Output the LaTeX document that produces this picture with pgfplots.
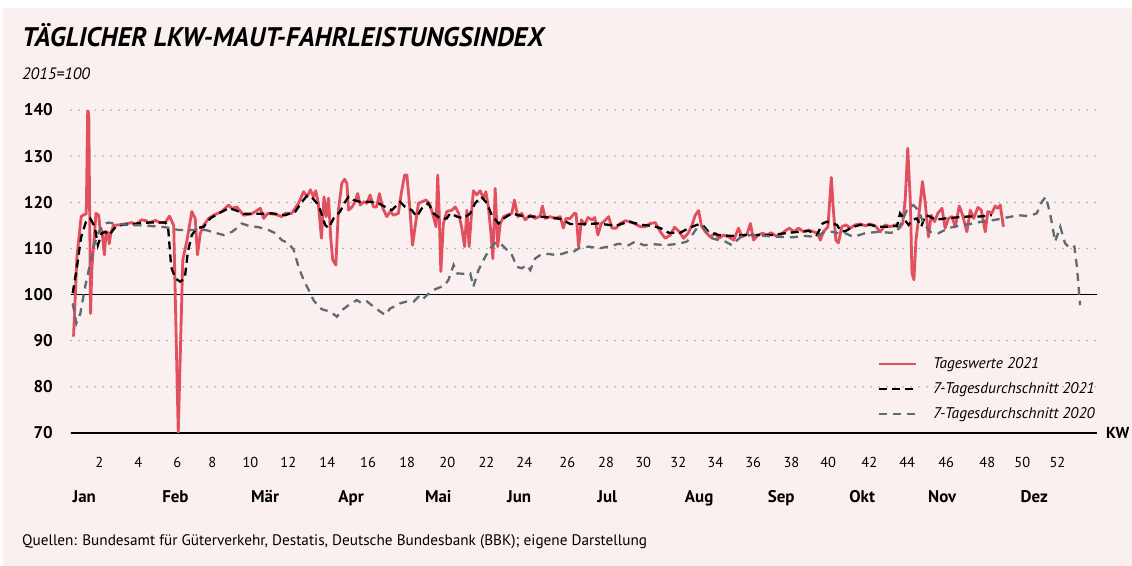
\documentclass[border=0pt]{standalone}
\usepackage{fontspec}
\setmainfont{PT Sans}
\usepackage{pgfplots}
\pgfplotsset{compat=1.18}
\definecolor{bg}{RGB}{250,240,239}
\definecolor{lred}{RGB}{226,80,95}
\definecolor{lgray}{RGB}{94,107,115}
\definecolor{gridc}{RGB}{135,135,135}
\begin{document}
\begin{tikzpicture}
\fill[white] (0bp,0bp) rectangle (1132bp,566bp);
\fill[bg] (3bp,0bp) rectangle (1132bp,558bp);
\useasboundingbox (0bp,0bp) rectangle (1132bp,566bp);
\node[anchor=base west, inner sep=0pt, font=\fontsize{27}{31}\selectfont\bfseries\itshape] at (22bp,519bp) {TÄGLICHER LKW-MAUT-FAHRLEISTUNGSINDEX};
\node[anchor=base west, inner sep=0pt, font=\fontsize{16.5}{19}\selectfont\itshape] at (22bp,486bp) {2015=100};
\node[anchor=base west, inner sep=0pt, font=\fontsize{15.3}{18}\selectfont] at (22bp,21bp) {Quellen: Bundesamt für Güterverkehr, Destatis, Deutsche Bundesbank (BBK); eigene Darstellung};
\begin{axis}[
  at={(71bp,133bp)}, anchor=south west,
  scale only axis, width=1026bp, height=323bp,
  xmin=0, xmax=362.6, ymin=70, ymax=140,
  axis lines*=left,
  x axis line style={black, line width=1.2bp, -},
  y axis line style={draw=none},
  major tick length=0pt,
  clip mode=individual,
  /pgf/number format/assume math mode=true,
  ytick={70,80,90,100,110,120,130,140},
  ymajorgrids,
  grid style={gridc, line width=1.5bp, dash pattern=on 0bp off 8bp, line cap=round},
  yticklabel style={font=\fontsize{17}{20}\selectfont\bfseries, anchor=east, inner sep=0pt, xshift=-18bp},
  xtick={10.0,23.8,37.6,49.9,63.4,76.8,90.6,105.0,118.8,133.0,146.8,160.2,175.4,189.1,202.2,214.6,227.7,241.1,254.6,267.6,282.1,295.5,309.3,323.8,336.2,348.6},
  xticklabels={2,4,6,8,10,12,14,16,18,20,22,24,26,28,30,32,34,36,38,40,42,44,46,48,50,52},
  xticklabel style={font=\fontsize{14.5}{17}\selectfont, anchor=base, inner sep=0pt, yshift=-35bp},
  legend image code/.code={\draw[#1] (0bp,0bp) -- (37bp,0bp);},
  legend cell align=left,
  legend style={at={(0.7856,0.240)}, anchor=north west, draw=none, fill=none, inner sep=0pt,
    font=\fontsize{15.5}{18}\selectfont\itshape, row sep=8.5bp,
    /tikz/every odd column/.append style={column sep=14bp}},
]
\draw[black, line width=1.2bp] (axis cs:0,100) -- (axis cs:362.6,100);
\foreach \d/\m in {4.7/Jan,36.9/Feb,68.6/Mär,99/Apr,129.8/Mai,158.4/Jun,189.5/Jul,222/Aug,251/Sep,279.6/Okt,307.9/Nov,340.4/Dez}{
  \edef\temp{\noexpand\node[anchor=base, inner sep=0pt, font=\noexpand\fontsize{17}{20}\noexpand\selectfont\noexpand\bfseries, yshift=-69.6bp] at (axis cs:\d,70) {\m};}
  \temp
}
\node[anchor=west, inner sep=0pt, font=\fontsize{16}{19}\selectfont\bfseries, xshift=9bp] at (rel axis cs:1,0) {KW};

\addplot[lred, line width=2.8bp, line join=round] coordinates {
(0.9,90.9) (2.1,108.2) (3.6,116.9) (4.5,117.3) (5.4,117.5) (5.9,140) (6.3,139) (6.9,95.9) (7.4,106) (8.3,113) (8.8,117.6) (9.8,117.2) (10.4,113.3) (10.9,114) (11.8,108.6) (12.4,113.6) (13.0,113.5) (13.5,111) (14.1,113.3) (15.0,115) (17,115.1) (19.0,115.3) (21.5,115.6) (22.7,115.0) (24.9,116.2) (26.6,116.0) (27.4,115.5) (29.8,116.1) (31.3,115.6) (33.3,115.6) (34.8,117.0) (36.3,115) (37.9,70) (39.5,107.5) (41,111.8) (42.7,118) (43.9,116.5) (44.7,108.6) (45.7,113.3) (46.9,115) (48.6,116.5) (50.4,117.2) (53.3,118) (55.7,119.4) (56.9,118.7) (58.6,119) (61,117.2) (63.9,117.5) (66.9,118.7) (68.1,116.5) (69.5,117.6) (72.2,117.4) (74.5,116.9) (75.7,117.6) (78,117.6) (80.4,119.8) (82.2,122.3) (83.4,121.2) (84.6,122.7) (85.7,121.2) (86.5,122.5) (87.4,119.8) (88.5,112.2) (89.4,121.2) (90.2,116.9) (91,120.9) (91.8,112.2) (92.5,107.5) (93.6,106.4) (94.5,118.3) (95.7,124.1) (96.7,125) (97.5,124.1) (98.1,118.3) (99.3,119) (100.4,120.1) (101.3,121.9) (102.2,119.4) (103.4,120.1) (104.6,119.8) (105.7,121.6) (106.9,119) (108,119) (109,121.9) (110.2,118.7) (111.6,116.9) (112.8,118) (114,117.2) (115.7,117.6) (116.7,121.9) (117.9,125.9) (118.7,125.9) (119.6,119.8) (120.7,110.7) (121.6,114.7) (122.8,119.8) (124,120.1) (125.5,120.5) (126.9,119.4) (128.1,116.9) (129,114.7) (129.6,125.9) (130.1,118) (130.7,105) (131.6,115.4) (132.8,118) (134.6,118.3) (135.8,119) (137,117.6) (138.1,114.4) (139.1,110.4) (139.9,118.3) (140.7,110.4) (141.7,119) (142.2,122.5) (143.4,121.6) (144.6,122.5) (145.8,120.9) (146.6,122.3) (147.5,119) (148.4,113.3) (149.1,107.8) (149.9,123) (150.8,110.4) (151.7,115.4) (152.9,116.9) (154,117.2) (155.8,117.6) (156.7,120.5) (157.9,116.9) (159.3,117.6) (160.5,116.2) (162.3,117.2) (164,116.5) (165.8,117) (166.6,119.2) (167.6,116.5) (169.3,116.9) (171.1,116.5) (172.9,116.9) (174,114.4) (174.9,116.5) (176.4,116.5) (177.9,117.6) (178.5,117.6) (179.4,110.4) (180.4,116.2) (181.5,115.1) (182.7,116.7) (184.1,116.2) (185.1,116.7) (186.2,112.9) (187.4,115.4) (188.6,116) (190,116.9) (191.2,114.4) (192.6,114.4) (194.1,115.4) (195.9,116) (197.7,115.8) (199.4,115.3) (201.2,114.7) (202.9,114.7) (204.7,115.4) (206.5,115.6) (208.3,113.6) (210,112.2) (211.8,112.9) (213.3,114.6) (215,113.6) (216.5,112.2) (218.1,113.3) (219.5,115.1) (220.6,117.2) (221.8,118.2) (222.8,114.9) (224.2,113.6) (225.9,112.5) (227.7,113.3) (228.9,112.2) (230.6,112.9) (232.4,112.5) (234.2,111.8) (235.9,114.4) (237.1,112.5) (238.9,113.1) (240.1,115.4) (241.2,111.8) (242.8,112.9) (244.4,113.3) (245.9,112.9) (247.5,113.4) (249.1,112.7) (250.6,112.9) (252.4,113.8) (253.9,114.4) (255.4,113.6) (257.1,114.4) (258.9,113.6) (260.7,114) (262.4,113.6) (264,113.3) (264.8,111.8) (265.9,113.6) (267.5,114.7) (268.7,125.4) (269.5,117.6) (270.3,111.8) (271.2,111.2) (272.4,114.7) (273.8,115.1) (275.4,114.4) (277.1,115.1) (278.9,115.3) (280.7,114.9) (282.4,115.3) (284.2,114.9) (286,113.6) (287.7,115.1) (289.5,114.7) (291.3,115.1) (292.7,114.4) (293.9,115.4) (294.8,120.5) (295.7,131.7) (296.6,120.5) (297.2,104.6) (297.9,103.2) (298.6,111.8) (299.3,115.4) (300.1,119.8) (300.9,124.5) (301.9,119.8) (303,112.5) (304,117.2) (305.2,115.8) (306.3,117.6) (307.8,118.7) (308.9,114.4) (310.1,116.5) (311.3,116.9) (312.5,114.7) (313.9,119.2) (315.1,117.2) (316.6,113.6) (317.8,118.3) (319,116.5) (320.5,118.9) (321.7,118.3) (323.1,113.6) (324,118) (325.4,117.6) (326.6,119.2) (327.5,118.7) (328.4,119.4) (329.5,114.7)
};
\addlegendentry{Tageswerte 2021}

\addplot[black, line width=2.3bp, dash pattern=on 8bp off 5bp] coordinates {
(0.6,100.3) (2.1,106) (3.6,112.5) (5.3,115.8) (6.8,116.5) (8.4,114.7) (9.5,110.7) (10.9,113.3) (12.1,113.6) (13.5,112.9) (15.4,114.4) (16.8,115) (21.5,115.3) (27.4,115.6) (33.3,115.6) (34.3,114.7) (35.4,106) (36.9,103.5) (38.6,102.8) (40.2,103.5) (41.3,109.3) (42.7,112.9) (44.5,114.4) (46.9,114.7) (49.2,116.5) (52.2,117.6) (55.7,118.7) (58.1,118.3) (61,117.5) (66.3,117.5) (71,117.6) (75.7,117.2) (79.3,118) (81.6,120.1) (83.4,121.4) (85.1,121.1) (86.9,119.8) (88.1,118.3) (89.8,115.1) (91,114.4) (92.8,116.5) (95.1,118) (96.9,120.1) (98.1,121.2) (99.8,120.5) (102.2,120.1) (105.7,120.1) (108.7,119.8) (111,119) (113.4,118.3) (116.3,120.1) (118.1,119) (120.4,118.3) (122.2,116.9) (124,118.7) (126.3,119.8) (128.1,117.6) (130.5,116.5) (132.8,116.5) (134,117.6) (136.4,116.9) (138.7,116.5) (141.1,117.6) (142.8,119.8) (145,121.2) (147,119.8) (148.7,117.2) (151.1,115.4) (152.9,116.5) (155.8,117.6) (158.1,117.2) (161.1,116.9) (165.2,116.9) (169.9,116.7) (173.5,116.3) (176.4,115.3) (180.6,115.3) (186.5,115.4) (192.4,114.9) (197.1,115.8) (201.8,115.1) (205.3,114.9) (208.3,114.4) (211.2,113.4) (215.3,113.4) (218.3,114.4) (221.2,115.1) (223.2,115.1) (225.3,113.6) (228.9,112.9) (233.6,112.7) (238.3,112.9) (243,112.9) (247.7,112.9) (252.4,113.3) (257.1,113.6) (260.7,113.8) (263.6,112.9) (264.8,114.4) (265.6,115.4) (267.1,115.8) (268.9,115.4) (270.7,115.1) (272.2,113.6) (273.8,113.8) (276,114.6) (278.9,115.1) (282.4,115.1) (285.4,114.7) (288.3,114.7) (291.9,114.9) (293,117.6) (294.6,116.2) (296,115.1) (297.4,116.2) (298.9,116.5) (300.5,114.7) (301.9,117.2) (303.6,116.9) (305.4,116.2) (308.9,116.5) (312.5,116.7) (316.6,116.9) (320.7,116.9) (325.4,117.2)
};
\addlegendentry{7-Tagesdurchschnitt 2021}

\addplot[lgray, line width=2.3bp, dash pattern=on 8bp off 6bp] coordinates {
(0.6,98.1) (1.9,93.8) (3.3,95.9) (5,101.7) (6.5,106) (8,110.4) (9.8,113.6) (11.5,115.3) (13.3,115.6) (15.7,115.3) (21.5,115.1) (27.4,114.9) (33.3,114.6) (38,114) (42.7,114) (47.5,114) (51,113.4) (53.9,112.9) (56.9,113.6) (58.6,114.4) (60.4,115.4) (62.8,114.9) (66.3,114.6) (69.8,114) (72.2,113.3) (74.5,111.8) (76.9,111.1) (78.7,109.7) (80.4,106) (82.2,103.2) (84,101) (85.7,98.8) (87.5,97.4) (88.7,96.8) (91.6,96.3) (94,95.2) (95.7,96.6) (98.1,97.7) (101,98.8) (102.8,98.1) (104.6,98.5) (106.9,97.4) (109.3,96.3) (111,95.6) (112.8,97) (114.6,97.5) (116.3,98.1) (118.7,98.5) (121.1,98.5) (122.8,99.5) (124,98.8) (125.8,99.9) (128.1,101) (130.5,101.6) (132.2,102.1) (133.4,103.2) (135.2,106.4) (136.4,104.6) (138.7,104.5) (141.1,104.6) (142.2,101.7) (144,105.3) (146.4,108.2) (148.1,110) (149.9,111.2) (151.7,111.1) (154,109.7) (155.8,108.6) (157.6,106) (159.3,105.7) (161.1,106.4) (162.3,105.3) (164,107.8) (166.4,108.8) (168.7,108.8) (171.1,108.6) (173.5,108.8) (175.8,109.3) (177.1,109.1) (179.4,110) (183,110.4) (186.5,110) (190,110.4) (193.5,111) (197.1,110.7) (199.4,111.5) (202.4,110.7) (206.5,110.9) (210,110.7) (214.7,111) (217.7,111.5) (219.5,112.9) (221.2,114.4) (223,114.7) (224.8,113.6) (226.5,112.2) (228.9,111.8) (231.2,111.5) (233.6,110.7) (235.4,111.8) (237.1,112.7) (240.7,112.9) (245.4,112.7) (250.1,112.5) (254.8,112.4) (259.5,112.7) (263,112.5) (266.5,113.6) (268.9,113.6) (271.2,113.3) (273.6,113.3) (276.5,112.5) (280.7,113.3) (285.4,113.6) (289.5,113.4) (291.9,113.6) (293.9,116.2) (295.4,118.3) (297.7,119.4) (299.5,118.3) (301.3,115.4) (303.6,113.6) (306.6,113.3) (310.1,114.4) (313.6,114.9) (317.8,115.3) (321.9,115.8) (326.6,116.2) (330.7,116.7) (334.8,117.2) (338.4,117) (341.3,117.6) (343.1,120.1) (344.5,121.2) (346,117.6) (347.8,111.5) (349.6,114.7) (351.3,111.1) (353.1,110) (354.6,110.4) (355.5,106) (356.6,97.7)
};
\addlegendentry{7-Tagesdurchschnitt 2020}
\end{axis}
\end{tikzpicture}
\end{document}
